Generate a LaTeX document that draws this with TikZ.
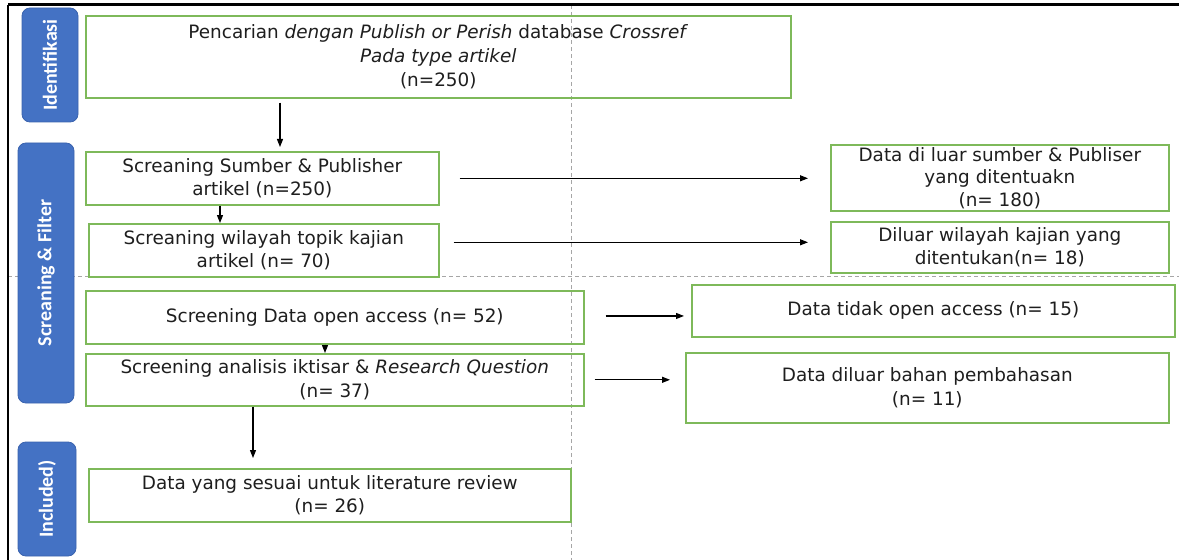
\documentclass[tikz,border=0pt]{standalone}
\usepackage{fontspec}
\setmainfont{DejaVu Sans}
\newfontfamily\barfont{Carlito}
\usetikzlibrary{calc, arrows.meta}

\definecolor{boxgreen}{HTML}{7EB95A}
\definecolor{barblue}{HTML}{4472C4}
\definecolor{barline}{HTML}{3A63AE}
\definecolor{guidegray}{HTML}{A6A6A6}
\definecolor{boxtext}{HTML}{1E1E1E}

\begin{document}
\begin{tikzpicture} [x=0.75pt, y=-0.75pt,
		% define styles
		boxnodestyle/.style={
			% The shape:
			rectangle,
			anchor=north west,
			inner sep=0pt,
			% The border:
			draw=boxgreen,
			line width=1.2pt,
			% Font
			text=boxtext,
			font=\fontsize{13.8}{17.5}\selectfont,
			align=center
		},
		phasenodestyle/.style={
			% The shape:
			rectangle,
			rotate=90,
			% The border and filling:
			draw=barline,
			line width=0.6pt,
			fill=barblue,
			% Corners
			rounded corners=6pt,
			% Font
			text=white,
			font=\barfont\bfseries\fontsize{15}{16}\selectfont
		},
		arrow/.style={
			-{Triangle[length=6pt, width=4.5pt]},
			% Thickness
			line width=0.8pt,
			% Color
			black
		},
		guide/.style={
			dash pattern=on 3pt off 2.25pt,
			guidegray,
			line width=0.75pt
		}]
		% end of style definition

		\useasboundingbox (0,0) rectangle (1179,560);

		% frame and guide lines
		\draw [guide] (571,5) -- (571,560);
		\draw [guide] (8,276) -- (1179,276);
		\draw [line width=2.25pt] (8,5) -- (1179,5);
		\draw [line width=1.5pt] (8,5) -- (8,560);

		% phase bars
		\node (iPhaseId) [phasenodestyle, minimum width=85.5pt, minimum height=42pt] at (50,65) {Identifikasi};
		\node (iPhaseScr) [phasenodestyle, minimum width=195pt, minimum height=42pt] at (46,273) {Screaning \& Filter};
		\node (iPhaseInc) [phasenodestyle, minimum width=85.5pt, minimum height=43.5pt] at (47,499) {Included)};

		% draw nodes
		\node (iCari) [boxnodestyle, font=\fontsize{13.8}{18.3}\selectfont, minimum width=528.75pt, minimum height=61.5pt] at (85,15)
			{Pencarian \textit{dengan Publish or Perish} database \textit{Crossref}\\ \textit{Pada type artikel}\\ (n=250)};
		\node (iScrSumber) [boxnodestyle, minimum width=264.75pt, minimum height=39.75pt] at (85,151)
			{Screaning Sumber \& Publisher\\ artikel (n=250)};
		\node (iScrTopik) [boxnodestyle, minimum width=262.5pt, minimum height=39.75pt] at (88,223)
			{Screaning wilayah topik kajian\\ artikel (n= 70)};
		\node (iScrAkses) [boxnodestyle, minimum width=373.5pt, minimum height=39.75pt] at (85,290)
			{Screening Data open access (n= 52)};
		\node (iScrAnalisis) [boxnodestyle, minimum width=373.5pt, minimum height=39pt] at (85,353)
			{Screening analisis iktisar \& \textit{Research Question}\\ (n= 37)};
		\node (iSesuai) [boxnodestyle, minimum width=361.5pt, minimum height=39.75pt] at (88,468)
			{Data yang sesuai untuk literature review\\ (n= 26)};

		\node (iLuarSumber) [boxnodestyle, font=\fontsize{13.8}{16.9}\selectfont, minimum width=253.5pt, minimum height=49.5pt] at (830,144)
			{Data di luar sumber \& Publiser\\ yang ditentuakn\\ (n= 180)};
		\node (iLuarWil) [boxnodestyle, minimum width=253.5pt, minimum height=38.25pt] at (830,221)
			{Diluar wilayah kajian yang\\ ditentukan(n= 18)};
		\node (iTidakAkses) [boxnodestyle, minimum width=362.25pt, minimum height=39pt] at (691,284)
			{Data tidak open access (n= 15)};
		\node (iLuarBahan) [boxnodestyle, minimum width=362.25pt, minimum height=52.5pt] at (685,352)
			{Data diluar bahan pembahasan\\ (n= 11)};

		% connect nodes
		\draw [arrow, shorten <=3pt, shorten >=3pt] ($(iCari.south west)+(195,0)$) -- ($(iScrSumber.north west)+(195,0)$);
		\draw [arrow] ($(iScrSumber.south west)+(135,0)$) -- ($(iScrTopik.north west)+(132,0)$);
		\draw [arrow] ($(iScrAkses.south west)+(240,0)$) -- ($(iScrAnalisis.north west)+(240,0)$);
		\draw [arrow, shorten >=7.5pt] ($(iScrAnalisis.south west)+(168,0)$) -- ($(iSesuai.north west)+(165,0)$);

		\draw [arrow, shorten <=15pt, shorten >=16.5pt] (iScrSumber.east) -- (iScrSumber.east -| iLuarSumber.west);
		\draw [arrow, shorten <=10.5pt, shorten >=16.5pt] ([yshift=6pt]iScrTopik.east) -- ([yshift=6pt]iScrTopik.east -| iLuarWil.west);
		\draw [arrow, shorten <=15.75pt, shorten >=5.25pt] ([yshift=1pt]iScrAkses.east) -- ([yshift=1pt]iScrAkses.east -| iTidakAkses.west);
		\draw [arrow, shorten <=7.5pt, shorten >=11.25pt] (iScrAnalisis.east) -- (iScrAnalisis.east -| iLuarBahan.west);
	\end{tikzpicture}
\end{document}
